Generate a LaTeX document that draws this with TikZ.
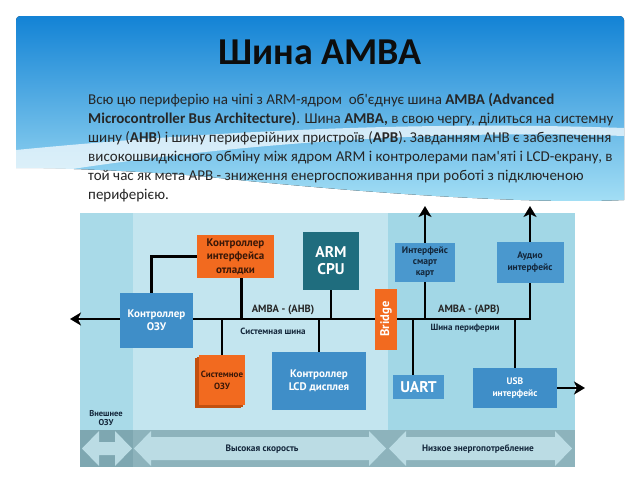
\documentclass[tikz,border=0pt]{standalone}
\usepackage{fontspec}
\setmainfont{Carlito}[Ligatures=TeXOff]
\newfontfamily\diagfont{PT Sans}
\usetikzlibrary{positioning,arrows.meta,shadows}
\pgfdeclarelayer{bg}
\pgfdeclarelayer{wires}
\pgfsetlayers{bg,wires,main}
\definecolor{hdrtop}{HTML}{1383D5}
\definecolor{hdrbot}{HTML}{A6E0F5}
\definecolor{bgmid}{HTML}{C3E5EF}
\definecolor{bgleft}{HTML}{A9DAE8}
\definecolor{bgright}{HTML}{A2D7E6}
\definecolor{barfill}{HTML}{8DB3BC}
\definecolor{barleft}{HTML}{7EA7B1}
\definecolor{arrfill}{HTML}{BBDCE4}
\definecolor{blkblue}{HTML}{3F8EC8}
\definecolor{blkblue2}{HTML}{4A98CE}
\definecolor{blkorange}{HTML}{F26A1F}
\definecolor{blkorangedk}{HTML}{C2500F}
\definecolor{blkteal}{HTML}{1F6D7E}
\definecolor{txtdark}{HTML}{13263A}
\definecolor{txtbrown}{HTML}{3A1808}
\tikzset{
  blk/.style={inner sep=0pt, align=center, font=\diagfont\bfseries\fontsize{11}{13.3}\selectfont},
  blueblk/.style={blk, fill=blkblue, text=white},
  lightblk/.style={blk, fill=blkblue2, text=txtdark, font=\diagfont\bfseries\fontsize{9.5}{11}\selectfont},
  orangeblk/.style={blk, fill=blkorange, text=txtbrown},
  busline/.style={line width=2.8pt},
  busarrow/.style={busline, -{Stealth[length=11pt, width=13pt, inset=3pt]}},
  buslabel/.style={font=\diagfont\bfseries\fontsize{10.5}{12}\selectfont, text=black!85},
  bussub/.style={font=\diagfont\bfseries\fontsize{9}{10}\selectfont, text=txtdark},
  speedlabel/.style={font=\diagfont\bfseries\fontsize{9.3}{10}\selectfont, text=txtdark},
}

\begin{document}
\begin{tikzpicture}[x=1pt, y=-1pt]
  \useasboundingbox (0,0) rectangle (640,480);
  \begin{pgfonlayer}{bg}
    \fill[white] (0,0) rectangle (640,480);
    % header band
    \fill[top color=hdrtop, bottom color=hdrbot, rounded corners=4pt]
      (16,100) |- (320,16) -| (624,100) [sharp corners] -- (624,200)
      .. controls (520,205) and (330,190) .. (200,176)
      .. controls (120,170) and (60,168) .. (16,168) -- cycle;
    \fill[white, opacity=0.7] (16,150) .. controls (180,134) and (400,120) .. (624,128)
      -- (624,136) .. controls (400,128) and (180,150) .. (16,178) -- cycle;
    % diagram background
    \fill[bgmid] (80,213) rectangle (575,430);
    \fill[bgleft] (80,213) rectangle (133,430);
    \fill[bgright] (388,213) rectangle (575,430);
    \fill[barfill] (80,430) rectangle (575,467);
    \fill[barleft] (80,430) rectangle (133,467);
    \fill[arrfill] (82,448.5) -- (99,431) -- (99,442) -- (115,442) -- (115,431) -- (132,448.5)
      -- (115,466) -- (115,455) -- (99,455) -- (99,466) -- cycle;
    \fill[arrfill] (134,448.5) -- (151,431) -- (151,437) -- (369,437) -- (369,431) -- (386,448.5)
      -- (369,466) -- (369,460) -- (151,460) -- (151,466) -- cycle;
    \fill[arrfill] (389,448.5) -- (406,431) -- (406,437) -- (555,437) -- (555,431) -- (572,448.5)
      -- (555,466) -- (555,460) -- (406,460) -- (406,466) -- cycle;
  \end{pgfonlayer}

  \node[font=\bfseries\fontsize{38}{40}\selectfont, text=black!95] (title) at (320,52) {Шина AMBA};
  \node[anchor=north west, align=left, inner sep=0pt, text=black!85,
    font=\fontsize{15}{19}\selectfont] (body) at (88,93.5)
    {Всю цю периферію на чіпі з ARM-ядром\ \ об'єднує шина \textbf{AMBA (Advanced}\\
     \textbf{Microcontroller Bus Architecture)}. Шина \textbf{AMBA,} в свою чергу, ділиться на системну\\
     шину (\textbf{AHB}) і шину периферійних пристроїв (\textbf{APB}). Завданням AHB є забезпечення\\
     високошвидкісного обміну між ядром ARM і контролерами пам'яті і LCD-екрану, в\\
     той час як мета APB - зниження енергоспоживання при роботі з підключеною\\
     периферією.};

  % AHB side
  \node[blueblk, minimum width=73pt, minimum height=55pt] (ramctl) at (156.5,320.5) {Контроллер\\ОЗУ};
  \node[orangeblk, minimum width=77pt, minimum height=43pt] (dbgctl) at (235.5,256.5) {Контроллер\\интерфейса\\отладки};
  \node[blk, fill=blkteal, text=white, minimum width=56pt, minimum height=58pt,
    font=\diagfont\bfseries\fontsize{15.5}{17}\selectfont] (cpu) at (331,261) {ARM\\CPU};
  \node[orangeblk, minimum width=61pt, minimum height=22pt, text=white, rotate=90,
    font=\diagfont\bfseries\fontsize{12.5}{13}\selectfont] (bridge) at (386,319) {Bridge};
  \node[orangeblk, minimum width=46pt, minimum height=50pt,
    font=\diagfont\bfseries\fontsize{9}{12}\selectfont,
    double copy shadow={shadow xshift=-1.8pt, shadow yshift=-1.6pt, fill=blkorangedk, draw=none}]
    (sysram) at (222,380) {Системное\\ОЗУ};
  \node[blueblk, minimum width=94pt, minimum height=58pt, font=\diagfont\bfseries\fontsize{11}{12.7}\selectfont]
    (lcdctl) at (319,381) {Контроллер\\LCD дисплея};
  % APB side
  \node[lightblk, minimum width=60pt, minimum height=39pt] (smartif) at (425,262.5) {Интерфейс\\смарт\\карт};
  \node[lightblk, minimum width=67pt, minimum height=41pt, font=\diagfont\bfseries\fontsize{9.5}{12}\selectfont]
    (audioif) at (530,262.5) {Аудио\\интерфейс};
  \node[blk, fill=blkblue2, text=white, minimum width=51pt, minimum height=24pt,
    font=\diagfont\bfseries\fontsize{15.5}{17}\selectfont] (uart) at (418.5,387) {UART};
  \node[blueblk, minimum width=84pt, minimum height=40pt, font=\diagfont\bfseries\fontsize{9.5}{12}\selectfont]
    (usbif) at (515,388) {USB\\интерфейс};

  \coordinate (ahbend) at (70,319);
  \coordinate (cardtop) at (425,206);
  \coordinate (audtop) at (530,206);
  \coordinate (usbout) at (585,388);
  \coordinate (dbgout) at ([xshift=45pt]dbgctl.south west);
  \coordinate (ramup) at ([xshift=32pt]ramctl.north west);
  \coordinate (uartin) at ([xshift=-5.5pt]uart.north);

  \begin{pgfonlayer}{wires}
    \draw[busarrow] (bridge.north) -- (ahbend);
    \draw[busline] (dbgout) -- (dbgout |- bridge);
    \draw[busline] (cpu.south) -- (cpu |- bridge);
    \draw[busline] (sysram.north) -- (sysram |- bridge);
    \draw[busline] (lcdctl.north) -- (lcdctl |- bridge);
    \draw[busline] (ramup) |- (dbgctl.west);
    \draw[busline] (bridge.south) -| (audioif.south);
    \draw[busarrow] (audioif.north) -- (audtop);
    \draw[busline] (smartif.south) -- (smartif |- bridge);
    \draw[busarrow] (smartif.north) -- (cardtop);
    \draw[busline] (uartin) -- (uartin |- bridge);
    \draw[busline] (usbif.north) -- (usbif |- bridge);
    \draw[busarrow] (usbif.east) -- (usbout);
  \end{pgfonlayer}

  \node[buslabel] (ahblbl) at (283,310) {AMBA - (AHB)};
  \node[bussub] (ahbsub) at (273,331) {Системная шина};
  \node[buslabel] (apblbl) at (469,310) {AMBA - (APB)};
  \node[bussub] (apbsub) at (465,328) {Шина периферии};
  \node[bussub, align=center, font=\diagfont\bfseries\fontsize{8.5}{9.5}\selectfont] (extram) at (106,418) {Внешнее\\ОЗУ};
  \node[speedlabel] (fast) at (262,449) {Высокая скорость};
  \node[speedlabel] (lowpow) at (478,449) {Низкое энергопотребление};
\end{tikzpicture}
\end{document}
